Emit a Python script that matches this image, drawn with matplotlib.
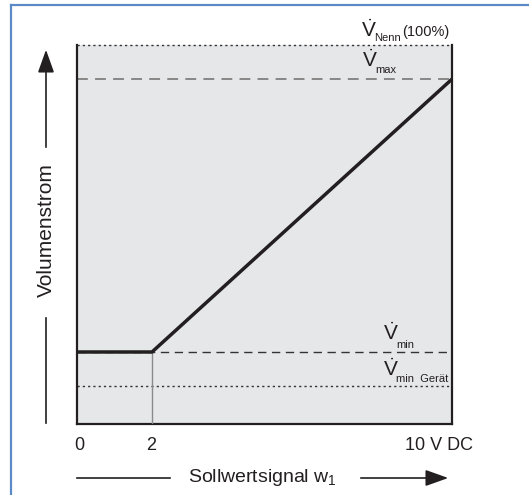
import matplotlib
matplotlib.use("Agg")
import matplotlib.pyplot as plt
from matplotlib.lines import Line2D

plt.rcParams['font.family'] = ['Liberation Sans', 'DejaVu Sans']
plt.rcParams['mathtext.fontset'] = 'custom'
plt.rcParams['mathtext.rm'] = 'Liberation Sans'
plt.rcParams['mathtext.it'] = 'Liberation Sans'
plt.rcParams['mathtext.bf'] = 'Liberation Sans:bold'

# --- data ---
signal_x = [0, 2, 10]          # Sollwertsignal (V DC)
flow_y = [19, 19, 91]          # Volumenstrom (% of V_Nenn)
v_nenn = 100
v_max = 91
v_min = 19
v_min_geraet = 10
tick_pos = [0, 2, 10]
tick_labels = ['0', '2', '10 V DC']

TXT = '#231f20'
W, H = 529, 495
fig = plt.figure(figsize=(W / 100, H / 100), dpi=100)
fig.patch.set_facecolor('white')

# blue frame (left and top)
fig.add_artist(Line2D([11 / W, 11 / W], [0, 1 - 5 / H], transform=fig.transFigure,
                      color='#5b8ac6', lw=1.6))
fig.add_artist(Line2D([11 / W, 1], [1 - 5 / H, 1 - 5 / H], transform=fig.transFigure,
                      color='#5b8ac6', lw=1.6))

ax = fig.add_axes([77 / W, (H - 424) / H, (452 - 77) / W, (424 - 45) / H])
ax.set_facecolor('#e6e7e8')
ax.set_xlim(0, 10)
ax.set_ylim(0, 100)
for s in ['left', 'right', 'bottom']:
    ax.spines[s].set_linewidth(1.6)
    ax.spines[s].set_color(TXT)
ax.spines['top'].set_visible(False)
ax.set_xticks([])
ax.set_yticks([])

# reference lines
ax.axhline(v_nenn, color='#333333', lw=1.0, ls=(0, (1.6, 2.2)), clip_on=False, zorder=3)
ax.axhline(v_max, color='#7f7f7f', lw=1.3, ls=(0, (6, 4)), zorder=2)
ax.axhline(v_min, color='#333333', lw=1.0, ls=(0, (6, 4)), zorder=2)
ax.axhline(v_min_geraet, color='#333333', lw=1.0, ls=(0, (1.6, 2.2)), zorder=2)

# vertical helper at 2 V
ax.plot([signal_x[1], signal_x[1]], [0, flow_y[1]], color='#8a8a8a', lw=1.0, zorder=3)

# characteristic
ax.plot(signal_x, flow_y, color=TXT, lw=2.5, solid_capstyle='butt', zorder=4)

# labels V with subscripts
def vlabel(x, y, sub, sub_dx, sub_dy, extra=None, extra_dx=0, extra_dy=0):
    ax.annotate(r'$\dot{\mathrm{V}}$', (x, y), xycoords='data', fontsize=15,
                ha='left', va='baseline', color=TXT, annotation_clip=False)
    ax.annotate(sub, (x, y), xytext=(sub_dx, sub_dy), textcoords='offset pixels',
                fontsize=8, ha='left', va='baseline', color=TXT, annotation_clip=False)
    if extra:
        ax.annotate(extra, (x, y), xytext=(extra_dx, extra_dy), textcoords='offset pixels',
                    fontsize=10.5, ha='left', va='baseline', color=TXT, annotation_clip=False)

vlabel(7.58, 102.1, 'Nenn', 13, -4, '(100%)', 41, 1)
vlabel(7.6, v_max + 3.2, 'max', 13, -6)
vlabel(8.16, v_min + 3.2, 'min', 13, -8)
vlabel(8.16, v_min_geraet + 2.7, 'min  Gerät', 13, -6)

# tick labels
offs = [2, -1, 0]
for p, lab, dx in zip(tick_pos, tick_labels, offs):
    if lab == tick_labels[-1]:
        ax.annotate(lab, (p, 0), xytext=(21, -21), textcoords='offset pixels',
                    fontsize=13, ha='right', va='center', color=TXT, annotation_clip=False)
    else:
        ax.annotate(lab, (p, 0), xytext=(dx, -21), textcoords='offset pixels',
                    fontsize=13, ha='center', va='center', color=TXT, annotation_clip=False)

# x-axis caption with arrow
ya = 1 - 478 / H
fig.add_artist(Line2D([77 / W, 170 / W], [ya, ya], transform=fig.transFigure, color=TXT, lw=1.2))
fig.text(262 / W, ya, 'Sollwertsignal w$_{\\mathrm{1}}$', fontsize=14, ha='center', va='center', color=TXT)
fig.add_artist(matplotlib.patches.FancyArrowPatch((358 / W, ya), (451 / W, ya), transform=fig.transFigure,
               arrowstyle='-|>,head_length=14,head_width=5', color=TXT, lw=1.2, mutation_scale=1))

# y-axis caption with arrow
xa = 46 / W
fig.add_artist(Line2D([xa, xa], [1 - 423 / H, 1 - 318 / H], transform=fig.transFigure, color=TXT, lw=1.2))
fig.text(xa, 1 - 230 / H, 'Volumenstrom', fontsize=15, rotation=90, ha='center', va='center', color=TXT)
fig.add_artist(matplotlib.patches.FancyArrowPatch((xa, 1 - 150 / H), (xa, 1 - 47 / H), transform=fig.transFigure,
               arrowstyle='-|>,head_length=14,head_width=5', color=TXT, lw=1.2, mutation_scale=1))

fig.savefig('out.png', dpi=100)
